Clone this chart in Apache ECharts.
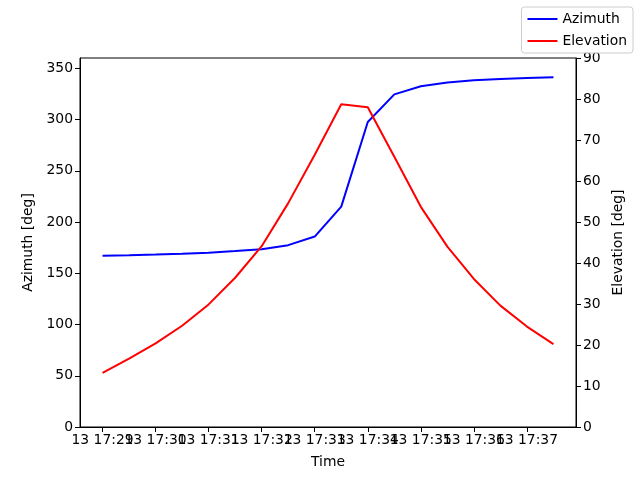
<!DOCTYPE html>
<html>
<head>
<meta charset="utf-8">
<script src="https://cdn.jsdelivr.net/npm/echarts@6/dist/echarts.min.js"></script>
<style>
html, body { margin: 0; padding: 0; background: #fff; }
#chart { width: 640px; height: 480px; }
</style>
</head>
<body>
<div id="chart"></div>
<script>
// sample times (day 13), one every 30 s
var times = ['17:29:00', '17:29:30', '17:30:00', '17:30:30', '17:31:00', '17:31:30',
             '17:32:00', '17:32:30', '17:33:00', '17:33:30', '17:34:00', '17:34:30',
             '17:35:00', '17:35:30', '17:36:00', '17:36:30', '17:37:00', '17:37:30'];
var azimuth = [167.0, 167.5, 168.2, 169.0, 170.0, 171.6, 173.5, 177.4, 185.8, 215.0,
               297.5, 324.5, 332.5, 336.0, 338.2, 339.5, 340.5, 341.2];
var elevation = [13.2, 16.7, 20.4, 24.7, 29.9, 36.4, 44.1, 54.6, 66.4, 78.7,
                 78.0, 65.9, 53.7, 44.0, 36.1, 29.6, 24.5, 20.2];
var timeTicks = ['17:29', '17:30', '17:31', '17:32', '17:33', '17:34', '17:35', '17:36', '17:37'];
var azTicks = [0, 50, 100, 150, 200, 250, 300, 350];
var elTicks = [0, 10, 20, 30, 40, 50, 60, 70, 80, 90];
var dayLabel = '13';

function toSec(s) {
    var p = s.split(':');
    return (+p[0]) * 3600 + (+p[1]) * 60 + (p.length > 2 ? +p[2] : 0);
}
function pad(n) { return (n < 10 ? '0' : '') + n; }
function timeLabel(v) {
    var h = Math.floor(v / 3600), m = Math.floor((v % 3600) / 60);
    return dayLabel + ' ' + pad(h) + ':' + pad(m);
}

var xs = times.map(toSec);
var tickSecs = timeTicks.map(toSec);
// the labels overlap like in the original; echarts drops some of them,
// so split them over two bottom axes that share the same range
var tickA = tickSecs.filter(function (v, i) { return i % 2 == 0; });
var tickB = tickSecs.filter(function (v, i) { return i % 2 == 1; });
var azData = xs.map(function (x, i) { return [x, azimuth[i]]; });
var elData = xs.map(function (x, i) { return [x, elevation[i]]; });
var span = xs[xs.length - 1] - xs[0];
var margin = span * 0.05;

var font = 'DejaVu Sans';
var fs = 13.9;

var myChart = echarts.init(document.getElementById('chart'));
myChart.setOption({
    animation: false,
    textStyle: { fontFamily: font, color: '#000' },
    grid: {
        left: 80, right: 64, top: 58, bottom: 53,
        show: true, borderColor: '#000', borderWidth: 1, backgroundColor: 'transparent'
    },
    legend: {
        orient: 'vertical',
        right: 7, top: 7,
        data: ['Azimuth', 'Elevation'],
        icon: 'rect',
        itemWidth: 30, itemHeight: 2,
        itemGap: 8,
        padding: [5, 6, 5, 6],
        borderColor: '#cccccc', borderWidth: 1, borderRadius: 3,
        backgroundColor: 'rgba(255,255,255,0.8)',
        textStyle: { fontFamily: font, fontSize: fs, color: '#000' }
    },
    xAxis: [{
        type: 'value',
        position: 'bottom',
        min: xs[0] - margin,
        max: xs[xs.length - 1] + margin,
        name: 'Time',
        nameLocation: 'middle',
        nameGap: 28,
        nameTextStyle: { fontFamily: font, fontSize: fs, color: '#000' },
        splitLine: { show: false },
        axisLine: { lineStyle: { color: '#000', width: 1 } },
        axisTick: { customValues: tickSecs, length: 5, lineStyle: { color: '#000' } },
        axisLabel: {
            customValues: tickA,
            showMinLabel: true, showMaxLabel: true,
            fontFamily: font, fontSize: fs, color: '#000', margin: 6,
            formatter: timeLabel
        }
    }, {
        type: 'value',
        position: 'bottom',
        offset: 0,
        min: xs[0] - margin,
        max: xs[xs.length - 1] + margin,
        splitLine: { show: false },
        axisLine: { show: false },
        axisTick: { show: false },
        axisLabel: {
            customValues: tickB,
            showMinLabel: true, showMaxLabel: true,
            fontFamily: font, fontSize: fs, color: '#000', margin: 6,
            formatter: timeLabel
        }
    }],
    yAxis: [{
        type: 'value',
        min: 0, max: 360,
        position: 'left',
        name: 'Azimuth [deg]',
        nameLocation: 'middle',
        nameRotate: 90,
        nameGap: 41,
        nameTextStyle: { fontFamily: font, fontSize: fs, color: '#000' },
        splitLine: { show: false },
        axisLine: { show: true, lineStyle: { color: '#000', width: 1 } },
        axisTick: { show: true, customValues: azTicks, length: 5, lineStyle: { color: '#000' } },
        axisLabel: { customValues: azTicks, showMinLabel: true, showMaxLabel: true,
                     fontFamily: font, fontSize: fs, color: '#000', margin: 7 }
    }, {
        type: 'value',
        min: 0, max: 90,
        position: 'right',
        name: 'Elevation [deg]',
        nameLocation: 'middle',
        nameRotate: 90,
        nameGap: 29,
        nameTextStyle: { fontFamily: font, fontSize: fs, color: '#000' },
        splitLine: { show: false },
        axisLine: { show: true, lineStyle: { color: '#000', width: 1 } },
        axisTick: { show: true, customValues: elTicks, length: 5, lineStyle: { color: '#000' } },
        axisLabel: { customValues: elTicks, showMinLabel: true, showMaxLabel: true,
                     fontFamily: font, fontSize: fs, color: '#000', margin: 7 }
    }],
    series: [{
        name: 'Azimuth',
        type: 'line',
        xAxisIndex: 0,
        yAxisIndex: 0,
        data: azData,
        showSymbol: false,
        symbol: 'none',
        color: '#0000ff',
        lineStyle: { color: '#0000ff', width: 2 }
    }, {
        name: 'Elevation',
        type: 'line',
        xAxisIndex: 0,
        yAxisIndex: 1,
        data: elData,
        showSymbol: false,
        symbol: 'none',
        color: '#ff0000',
        lineStyle: { color: '#ff0000', width: 2 }
    }]
});
</script>
</body>
</html>
